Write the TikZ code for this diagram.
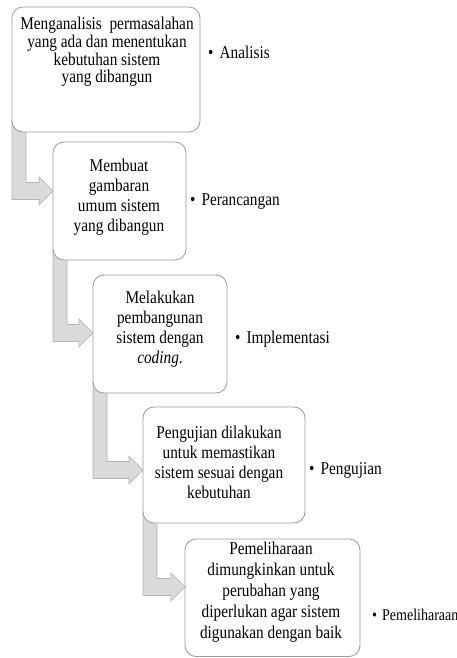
\documentclass[tikz,border=0pt]{standalone}
\usepackage{fontspec}
\setmainfont{Liberation Serif}[FakeStretch=0.85]
\usetikzlibrary{calc,backgrounds}
\definecolor{boxline}{HTML}{9A9A9A}
\definecolor{arrowfill}{HTML}{DADADA}
\definecolor{arrowline}{HTML}{B4B4B4}
\tikzset{
  stepbox/.style={draw=boxline, line width=0.8pt, fill=white, rounded corners=11pt, inner sep=0pt},
  steptext/.style={align=center, inner sep=0pt, font=\fontsize{18pt}{20pt}\selectfont},
  steplabel/.style={anchor=west, inner sep=0pt, font=\fontsize{18pt}{20pt}\selectfont},
  blockarrow/.style={fill=arrowfill, draw=arrowline, line width=0.6pt, line join=miter}
}
\newcommand\stepArrow[3]{%
  \path[blockarrow] let \p1=(#1.south west), \p2=(#2.west) in
    (\x1,\y1+12pt) -- (\x1,#3-8.5pt) -- (\x2-14pt,#3-8.5pt) -- (\x2-14pt,#3-14pt)
    -- (\x2,#3) -- (\x2-14pt,#3+14pt) -- (\x2-14pt,#3+8.5pt) -- (\x1+14pt,#3+8.5pt)
    -- (\x1+14pt,\y1+12pt) -- cycle;}
\begin{document}
\begin{tikzpicture}[x=1pt,y=1pt]
\useasboundingbox (0,0) rectangle (457,-658);
% boxes
\path[stepbox] (12,-7) rectangle (200,-132);
\node[minimum width=188pt, minimum height=125pt, inner sep=0pt, anchor=north west] (b1) at (12,-7) {};
\path[stepbox] (53,-142) rectangle (186,-260);
\node[minimum width=133pt, minimum height=118pt, inner sep=0pt, anchor=north west] (b2) at (53,-142) {};
\path[stepbox] (93,-275) rectangle (227,-393);
\node[minimum width=134pt, minimum height=118pt, inner sep=0pt, anchor=north west] (b3) at (93,-275) {};
\path[stepbox] (143,-407) rectangle (305,-523);
\node[minimum width=162pt, minimum height=116pt, inner sep=0pt, anchor=north west] (b4) at (143,-407) {};
\path[stepbox] (185,-539) rectangle (360,-656.5);
\node[minimum width=175pt, minimum height=117.5pt, inner sep=0pt, anchor=north west] (b5) at (185,-539) {};
% arrows behind the boxes
\begin{scope}[on background layer]
\stepArrow{b1}{b2}{-191pt}
\stepArrow{b2}{b3}{-333pt}
\stepArrow{b3}{b4}{-470pt}
\stepArrow{b4}{b5}{-587pt}
\end{scope}
% texts
\node[steptext, font=\fontsize{18pt}{17.7pt}\selectfont] (t1) at (107,-52) {Menganalisis\ \ permasalahan\\yang ada dan menentukan\\kebutuhan sistem\\yang dibangun};
\node[steptext] (t2) at (119,-197) {Membuat\\gambaran\\umum sistem\\yang dibangun};
\node[steptext] (t3) at (160,-329) {Melakukan\\pembangunan\\sistem dengan\\\textit{coding}.};
\node[steptext] (t4) at (219,-462) {Pengujian dilakukan\\untuk memastikan\\sistem sesuai dengan\\kebutuhan};
\node[steptext, font=\fontsize{18pt}{21pt}\selectfont] (t5) at (271,-592.5) {Pemeliharaan\\dimungkinkan untuk\\perubahan yang\\diperlukan agar sistem\\digunakan dengan baik};
% labels
\node[steplabel] (l1) at (208,-52) {•\hspace{6pt}Analisis};
\node[steplabel] (l2) at (190,-202) {•\hspace{6pt}Perancangan};
\node[steplabel] (l3) at (235,-339) {•\hspace{6pt}Implementasi};
\node[steplabel] (l4) at (309,-470) {•\hspace{6pt}Pengujian};
\node[steplabel, font=\fontsize{16.5pt}{18pt}\selectfont] (l5) at (372,-615) {•\hspace{5pt}Pemeliharaan};
\end{tikzpicture}
\end{document}
